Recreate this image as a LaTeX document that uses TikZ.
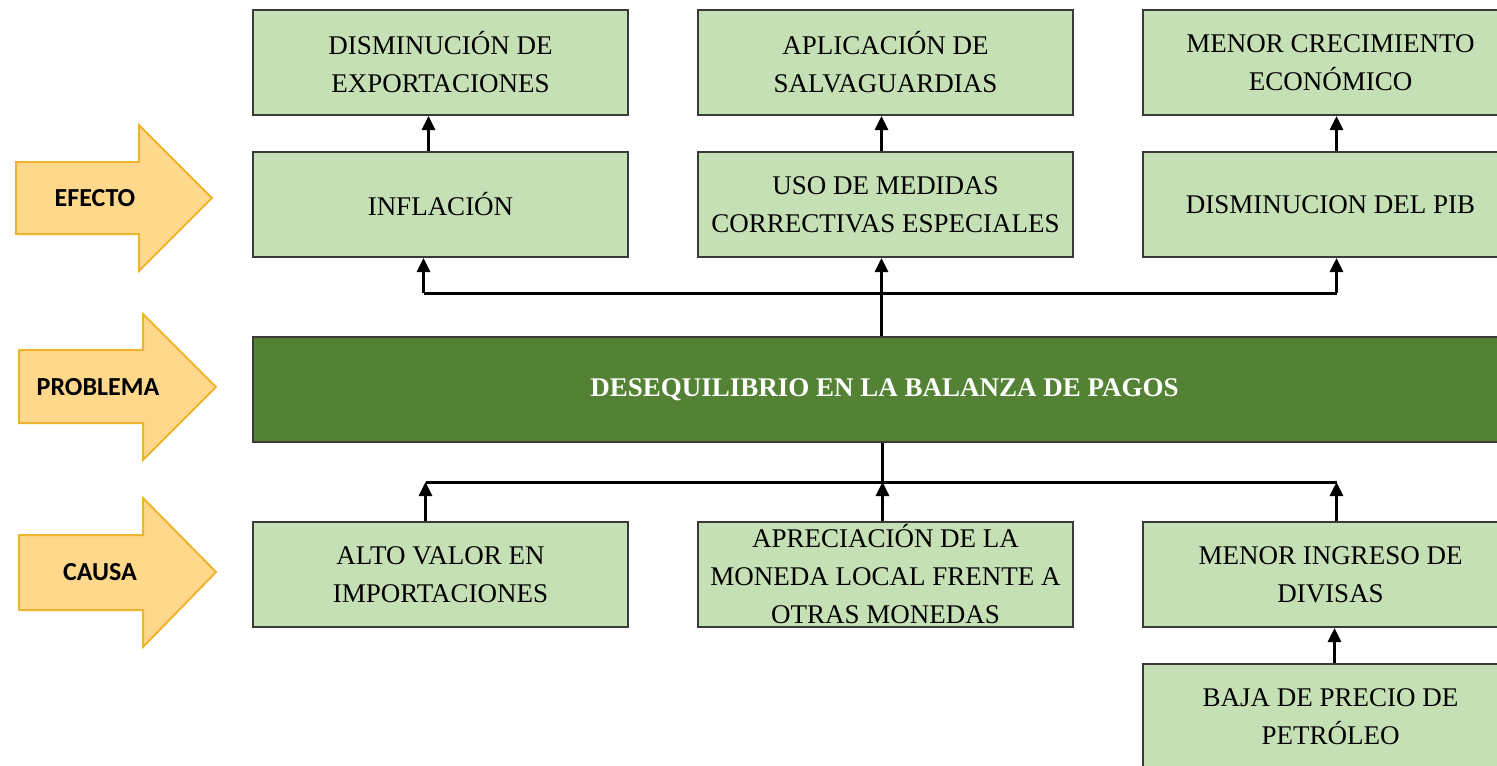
\documentclass[tikz,border=0pt]{standalone}
\usepackage{fontspec}
\setmainfont{Liberation Serif}
\newfontfamily\etiqueta{Carlito}
\usepackage{tikz}
\usetikzlibrary{arrows.meta, positioning, calc}

\definecolor{verdeclaro}{HTML}{C5E0B4}
\definecolor{verdeoscuro}{HTML}{548235}
\definecolor{oro}{HTML}{FFD88C}
\definecolor{orilla}{HTML}{EDB52F}
\definecolor{borde}{HTML}{3A3A3A}

\tikzset{
  caja/.style={draw=borde, line width=1pt, fill=verdeclaro, minimum width=187.5pt,
    minimum height=52.5pt, align=center, inner sep=2pt,
    font=\fontsize{13.5}{19}\selectfont},
  problema/.style={caja, fill=verdeoscuro, text=white, minimum width=631.5pt,
    font=\bfseries\fontsize{13.5}{19}\selectfont},
  flecha/.style={draw=orilla, line width=1pt, fill=oro},
  etiq/.style={font=\etiqueta\bfseries\fontsize{13}{15}\selectfont},
  conector/.style={line width=1.5pt}
}

\begin{document}
\begin{tikzpicture}[
            x=0.5pt, y=-0.5pt,                          % pixel units, y downwards
            >={Triangle[length=7pt,width=6.5pt]}       % arrow tip style
          ]
          \clip (0,0) rectangle (1497,765);
          \useasboundingbox (0,0) rectangle (1497,765);

          % flechas de la izquierda
          \draw[flecha] (16,162) -- (139,162) -- (139,125) -- (212,198) -- (139,271) -- (139,234) -- (16,234) -- cycle;
          \draw[flecha] (19,350) -- (143,350) -- (143,314) -- (216,387) -- (143,460) -- (143,423) -- (19,423) -- cycle;
          \draw[flecha] (19,535) -- (143,535) -- (143,498) -- (216,572) -- (143,647) -- (143,610) -- (19,610) -- cycle;
          \node[etiq] (efecto) at (95,198) {EFECTO};
          \node[etiq] (probl) at (98,387) {PROBLEMA};
          \node[etiq] (causa) at (100,572) {CAUSA};

          % problema
          \node[problema] (prob) at (884.5,389.5) {DESEQUILIBRIO EN LA BALANZA DE PAGOS};

          % efectos
          \node[caja] (infl) [above right=39pt and 0pt of prob.north west] {INFLACIÓN};
          \node[caja] (uso) [right=34pt of infl] {USO DE MEDIDAS\\CORRECTIVAS ESPECIALES};
          \node[caja] (pib) [right=34pt of uso] {DISMINUCION DEL PIB};
          \node[caja] (dism) [above=17.5pt of infl] {DISMINUCIÓN DE\\EXPORTACIONES};
          \node[caja] (salv) [above=17.5pt of uso] {APLICACIÓN DE\\SALVAGUARDIAS};
          \node[caja] (crec) [above=17.5pt of pib] {MENOR CRECIMIENTO\\ECONÓMICO};

          % causas
          \node[caja] (alto) [below right=39pt and 0pt of prob.south west] {ALTO VALOR EN\\IMPORTACIONES};
          \node[caja, inner ysep=0pt] (aprec) [right=34pt of alto] {APRECIACIÓN DE LA\\MONEDA LOCAL FRENTE A\\OTRAS MONEDAS};
          \node[caja] (ingr) [right=34pt of aprec] {MENOR INGRESO DE\\DIVISAS};
          \node[caja] (baja) [below=17.5pt of ingr] {BAJA DE PRECIO DE\\PETRÓLEO};

          % conectores de efectos
          \coordinate (ejeE) at ($(prob.north)!0.55!(uso.south)$);
          \coordinate (eI) at ($(ejeE -| infl)+(-8.5pt,0)$);
          \coordinate (eM) at ($(ejeE -| uso)+(-2pt,0)$);
          \coordinate (eD) at ($(ejeE -| pib)+(3pt,0)$);
          \draw[conector] (eI) -- (eD);
          \draw[conector,->] (eM |- prob.north) -- (eM |- uso.south);
          \draw[conector,->] (eI) -- (eI |- infl.south);
          \draw[conector,->] (eD) -- (eD |- pib.south);
          \draw[conector,->] ($(infl.north)+(-6pt,0)$) -- ($(dism.south)+(-6pt,0)$);
          \draw[conector,->] ($(uso.north)+(-2pt,0)$) -- ($(salv.south)+(-2pt,0)$);
          \draw[conector,->] ($(pib.north)+(3pt,0)$) -- ($(crec.south)+(3pt,0)$);

          % conectores de causas
          \coordinate (ejeC) at ($(prob.south)!0.5!(aprec.north)$);
          \coordinate (cI) at ($(ejeC -| alto)+(-7.5pt,0)$);
          \coordinate (cM) at ($(ejeC -| aprec)+(-1.5pt,0)$);
          \coordinate (cD) at ($(ejeC -| ingr)+(3pt,0)$);
          \draw[conector] (cI) -- (cD);
          \draw[conector] (cM |- prob.south) -- (cM);
          \draw[conector,->] (cM |- aprec.north) -- (cM);
          \draw[conector,->] (cI |- alto.north) -- (cI);
          \draw[conector,->] (cD |- ingr.north) -- (cD);
          \draw[conector,->] ($(baja.north)+(2pt,0)$) -- ($(ingr.south)+(2pt,0)$);
        \end{tikzpicture}
\end{document}
